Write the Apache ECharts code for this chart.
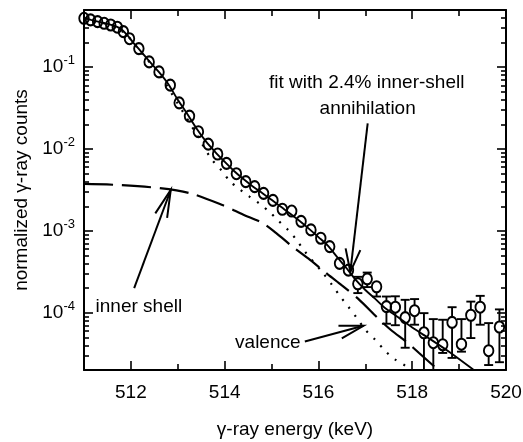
<!DOCTYPE html>
<html>
<head>
<meta charset="utf-8">
<script src="https://cdn.jsdelivr.net/npm/echarts@6/dist/echarts.min.js"></script>
<style>
  html, body { margin: 0; padding: 0; background: #fff; }
  #chart { width: 523px; height: 442px; }
</style>
</head>
<body>
<div id="chart"></div>
<script>
// Measured spectrum (keV, normalized counts)
const energy = [511.00, 511.14, 511.29, 511.43, 511.57, 511.71, 511.84, 511.97, 512.17, 512.39,
  512.60, 512.84, 513.03, 513.25, 513.44, 513.65, 513.85, 514.04, 514.25, 514.45,
  514.64, 514.83, 515.03, 515.23, 515.43, 515.63, 515.84, 516.05, 516.24, 516.45,
  516.64, 516.84, 517.04, 517.24, 517.45, 517.64, 517.85, 518.05, 518.25, 518.45,
  518.65, 518.85, 519.05, 519.25, 519.45, 519.63, 519.86];
const counts = [0.396, 0.378, 0.361, 0.344, 0.328, 0.308, 0.272, 0.223, 0.169, 0.116,
  0.0877, 0.0603, 0.0367, 0.0253, 0.0163, 0.0115, 0.0087, 0.0067, 0.0050, 0.0040,
  0.00347, 0.00288, 0.00236, 0.00184, 0.00175, 0.00131, 0.00103, 0.000814, 0.000644, 0.000402,
  0.000332, 0.000226, 0.00026, 0.000208, 0.000119, 0.000117, 0.0000874, 0.000106, 0.000057, 0.0000431,
  0.0000407, 0.0000762, 0.0000413, 0.0000933, 0.000117, 0.0000344, 0.000067];
// Error-bar ends (null where the bar hides inside the marker)
const countsUpper = [null, null, null, null, null, null, null, null, null, null,
  null, null, null, null, null, null, null, null, null, null,
  null, null, null, null, null, null, null, null, null, null,
  null, 0.000275, 0.00031, 0.000241, 0.000158, 0.000159, 0.000144, 0.000147, 0.000099, 0.0000837,
  0.0000822, 0.000117, 0.0000837, 0.000137, 0.000161, 0.0000748, 0.00011];
const countsLower = [null, null, null, null, null, null, null, null, null, null,
  null, null, null, null, null, null, null, null, null, null,
  null, null, null, null, null, null, null, null, null, null,
  null, 0.000174, 0.000206, 0.000158, 0.0000735, 0.0000705, 0.0000374, 0.0000715, 0.000012, 0.000012,
  0.0000323, 0.0000281, 0.0000335, 0.0000491, 0.0000715, 0.000023, 0.0000249];

// Fit with 2.4% inner-shell annihilation
const fitEnergy = [511.0, 511.15, 511.3, 511.45, 511.6, 511.75, 511.9, 512.05, 512.2, 512.4,
  512.6, 512.8, 513.0, 513.2, 513.4, 513.6, 513.8, 514.0, 514.2, 514.4,
  514.6, 514.8, 515.0, 515.2, 515.4, 515.6, 515.8, 516.0, 516.2, 516.4,
  516.6, 516.8, 517.0, 517.2, 517.4, 517.7, 518.0, 518.4, 518.8, 519.25, 519.5];
const fitCounts = [0.398, 0.378, 0.36, 0.343, 0.327, 0.302, 0.255, 0.2, 0.16, 0.117,
  0.087, 0.062, 0.04, 0.027, 0.0178, 0.0124, 0.0092, 0.0070, 0.0054, 0.0043,
  0.0035, 0.0029, 0.0024, 0.00197, 0.00162, 0.00132, 0.00106, 0.00084, 0.00066, 0.00048,
  0.00035, 0.00025, 0.00019, 0.00015, 0.000117, 0.000088, 0.000066, 0.000047, 0.000033, 0.0000213, 0.0000165];

// Inner-shell component
const innerEnergy = [511.0, 511.75, 512.6, 513.25, 513.95, 514.4, 514.81, 515.1, 515.45, 515.82,
  516.2, 516.5, 516.85, 517.26, 517.54, 517.9, 518.14, 518.5, 518.7];
const innerCounts = [0.00375, 0.00364, 0.00334, 0.0029, 0.00207, 0.00158, 0.00125, 0.00094, 0.00064, 0.000443,
  0.000295, 0.000216, 0.000148, 0.000087, 0.000062, 0.000043, 0.0000325, 0.0000213, 0.000017];

// Valence component
const valenceEnergy = [511.0, 511.3, 511.6, 511.9, 512.2, 512.6, 513.0, 513.4, 513.7, 513.93,
  514.12, 514.32, 514.53, 514.73, 514.95, 515.14, 515.35, 515.53, 515.71, 516.1,
  516.29, 516.46, 516.64, 516.82, 517.0, 517.21, 517.42, 517.64, 517.85, 518.1];
const valenceCounts = [0.394, 0.356, 0.323, 0.251, 0.156, 0.083, 0.036, 0.0152, 0.0078, 0.0055,
  0.0040, 0.00323, 0.00262, 0.00218, 0.00172, 0.00134, 0.00103, 0.00078, 0.00056, 0.000305,
  0.000219, 0.00016, 0.000118, 0.0000861, 0.0000621, 0.0000469, 0.0000344, 0.0000267, 0.0000226, 0.000018];

// Axis ticks
const xMajorTicks = [512, 514, 516, 518, 520];
const xMinorTicks = [513, 515, 517, 519];
const yMajorTicks = [1e-4, 1e-3, 1e-2, 1e-1];
const yMinorTicks = [3e-5, 4e-5, 5e-5, 6e-5, 7e-5, 8e-5, 9e-5,
  2e-4, 3e-4, 4e-4, 5e-4, 6e-4, 7e-4, 8e-4, 9e-4,
  2e-3, 3e-3, 4e-3, 5e-3, 6e-3, 7e-3, 8e-3, 9e-3,
  2e-2, 3e-2, 4e-2, 5e-2, 6e-2, 7e-2, 8e-2, 9e-2,
  0.2, 0.3, 0.4];

// Annotation anchors in data coordinates
const arrowNotes = [
  { from: [517.05, 0.0206], to: [516.68, 0.000316], head: 24, spread: 18 },
  { from: [512.07, 0.0002], to: [512.85, 0.00316], head: 28, spread: 13 },
  { from: [515.71, 0.0000447], to: [516.96, 0.0000693], head: 25, spread: 15 }
];
const textNotes = [
  { at: [517.03, 0.0640], text: 'fit with 2.4% inner-shell' },
  { at: [517.05, 0.0310], text: 'annihilation' },
  { at: [512.17, 0.000119], text: 'inner shell' },
  { at: [514.92, 0.0000427], text: 'valence' }
];

const FONT = "'Liberation Sans', Arial, Helvetica, sans-serif";
const X_MIN = 511, X_MAX = 520, Y_MIN = 2e-5, Y_MAX = 0.5;
const gridRect = { left: 84, right: 17, top: 10, bottom: 72, outerBoundsMode: 'none', containLabel: false };

function xAxisDef(gridIndex, position, ticks, len, withLine, withLabels) {
  return {
    type: 'value', gridIndex, position, min: X_MIN, max: X_MAX,
    axisLine: { show: withLine, onZero: false, lineStyle: { color: '#000', width: 2 } },
    axisTick: { show: true, inside: true, length: len, customValues: ticks, lineStyle: { color: '#000', width: 1.6 } },
    axisLabel: withLabels ? { show: true, customValues: ticks, fontSize: 19, color: '#000', fontFamily: FONT, margin: 13 } : { show: false },
    splitLine: { show: false },
    name: withLabels ? 'γ-ray energy (keV)' : '',
    nameLocation: 'middle', nameGap: 50,
    nameTextStyle: { fontSize: 19, color: '#000', fontFamily: FONT }
  };
}
function yAxisDef(gridIndex, position, ticks, len, withLine, withLabels) {
  return {
    type: 'log', logBase: 10, gridIndex, position, min: Y_MIN, max: Y_MAX,
    axisLine: { show: withLine, onZero: false, lineStyle: { color: '#000', width: 2 } },
    axisTick: { show: true, inside: true, length: len, customValues: ticks, lineStyle: { color: '#000', width: 1.6 } },
    axisLabel: withLabels ? {
      show: true, customValues: ticks, margin: 9, color: '#000', fontFamily: FONT,
      formatter: v => '{b|10}{s|' + Math.round(Math.log10(v)) + '}',
      rich: {
        b: { fontSize: 19, fontFamily: FONT, color: '#000' },
        s: { fontSize: 13, fontFamily: FONT, color: '#000', padding: [0, 0, 13, 0] }
      }
    } : { show: false },
    splitLine: { show: false },
    name: withLabels ? 'normalized γ-ray counts' : '',
    nameLocation: 'middle', nameGap: 51, nameRotate: 90,
    nameTextStyle: { fontSize: 19, color: '#000', fontFamily: FONT }
  };
}

function arrowShape(api, note) {
  const a = api.coord(note.from), b = api.coord(note.to);
  const ang = Math.atan2(a[1] - b[1], a[0] - b[0]);
  const s = note.spread * Math.PI / 180;
  const h1 = [b[0] + note.head * Math.cos(ang + s), b[1] + note.head * Math.sin(ang + s)];
  const h2 = [b[0] + note.head * Math.cos(ang - s), b[1] + note.head * Math.sin(ang - s)];
  const st = { stroke: '#000', lineWidth: 2, fill: null };
  return [
    { type: 'line', shape: { x1: a[0], y1: a[1], x2: b[0], y2: b[1] }, style: st },
    { type: 'polyline', shape: { points: [h1, b, h2] }, style: st }
  ];
}

const chart = echarts.init(document.getElementById('chart'), null, { renderer: 'canvas' });
const pointData = energy.map((e, i) => [e, counts[i]]);
const barData = energy.map((e, i) => [e, counts[i], countsUpper[i], countsLower[i]])
  .filter(d => d[2] !== null);

chart.setOption({
  backgroundColor: '#fff',
  animation: false,
  grid: [Object.assign({}, gridRect), Object.assign({}, gridRect)],
  xAxis: [
    xAxisDef(0, 'bottom', xMajorTicks, 9, true, true),
    xAxisDef(0, 'top', xMajorTicks, 9, true, false),
    xAxisDef(1, 'bottom', xMinorTicks, 6, false, false),
    xAxisDef(1, 'top', xMinorTicks, 6, false, false)
  ],
  yAxis: [
    yAxisDef(0, 'left', yMajorTicks, 9, true, true),
    yAxisDef(0, 'right', yMajorTicks, 9, true, false),
    yAxisDef(1, 'left', yMinorTicks, 5, false, false),
    yAxisDef(1, 'right', yMinorTicks, 5, false, false)
  ],
  series: [
    {
      name: 'inner shell', type: 'line', xAxisIndex: 0, yAxisIndex: 0,
      data: innerEnergy.map((e, i) => [e, innerCounts[i]]),
      showSymbol: false, smooth: 0.3, clip: true,
      lineStyle: { color: '#000', width: 2.2, type: [29, 9] }
    },
    {
      name: 'valence', type: 'line', xAxisIndex: 0, yAxisIndex: 0,
      data: valenceEnergy.map((e, i) => [e, valenceCounts[i]]),
      showSymbol: false, smooth: 0.3, clip: true,
      lineStyle: { color: '#000', width: 2.2, type: [2, 8] }
    },
    {
      name: 'fit', type: 'line', xAxisIndex: 0, yAxisIndex: 0,
      data: fitEnergy.map((e, i) => [e, fitCounts[i]]),
      showSymbol: false, smooth: 0.3, clip: true,
      lineStyle: { color: '#000', width: 1.9 }
    },
    {
      name: 'error bars', type: 'custom', xAxisIndex: 0, yAxisIndex: 0,
      data: barData, clip: true, silent: true,
      encode: { x: 0, y: 1 },
      renderItem: (params, api) => {
        const x = api.value(0);
        const c = api.coord([x, api.value(1)]);
        const hi = api.coord([x, api.value(2)]);
        const lo = api.coord([x, api.value(3)]);
        const r = 5.5, cap = 4.5;
        const st = { stroke: '#000', lineWidth: 1.9 };
        const kids = [];
        if (hi[1] < c[1] - r) {
          kids.push({ type: 'line', shape: { x1: c[0], y1: hi[1], x2: c[0], y2: c[1] - r }, style: st });
          kids.push({ type: 'line', shape: { x1: c[0] - cap, y1: hi[1], x2: c[0] + cap, y2: hi[1] }, style: st });
        }
        if (lo[1] > c[1] + r) {
          kids.push({ type: 'line', shape: { x1: c[0], y1: c[1] + r, x2: c[0], y2: lo[1] }, style: st });
          kids.push({ type: 'line', shape: { x1: c[0] - cap, y1: lo[1], x2: c[0] + cap, y2: lo[1] }, style: st });
        }
        return { type: 'group', children: kids };
      }
    },
    {
      name: 'data', type: 'scatter', xAxisIndex: 0, yAxisIndex: 0,
      data: pointData, symbol: 'circle', symbolSize: [9.5, 11], z: 5,
      itemStyle: { color: 'rgba(0,0,0,0)', borderColor: '#000', borderWidth: 2, opacity: 1 }
    },
    {
      name: 'notes', type: 'custom', xAxisIndex: 0, yAxisIndex: 0,
      data: [[516, 1e-3]], clip: false, silent: true, z: 6,
      renderItem: (params, api) => {
        const kids = [];
        arrowNotes.forEach(n => kids.push(...arrowShape(api, n)));
        textNotes.forEach(t => {
          const p = api.coord(t.at);
          kids.push({
            type: 'text', x: p[0], y: p[1],
            style: { text: t.text, fill: '#000', fontSize: 19, fontFamily: FONT, align: 'center', verticalAlign: 'middle' }
          });
        });
        return { type: 'group', children: kids };
      }
    }
  ]
});
</script>
</body>
</html>
